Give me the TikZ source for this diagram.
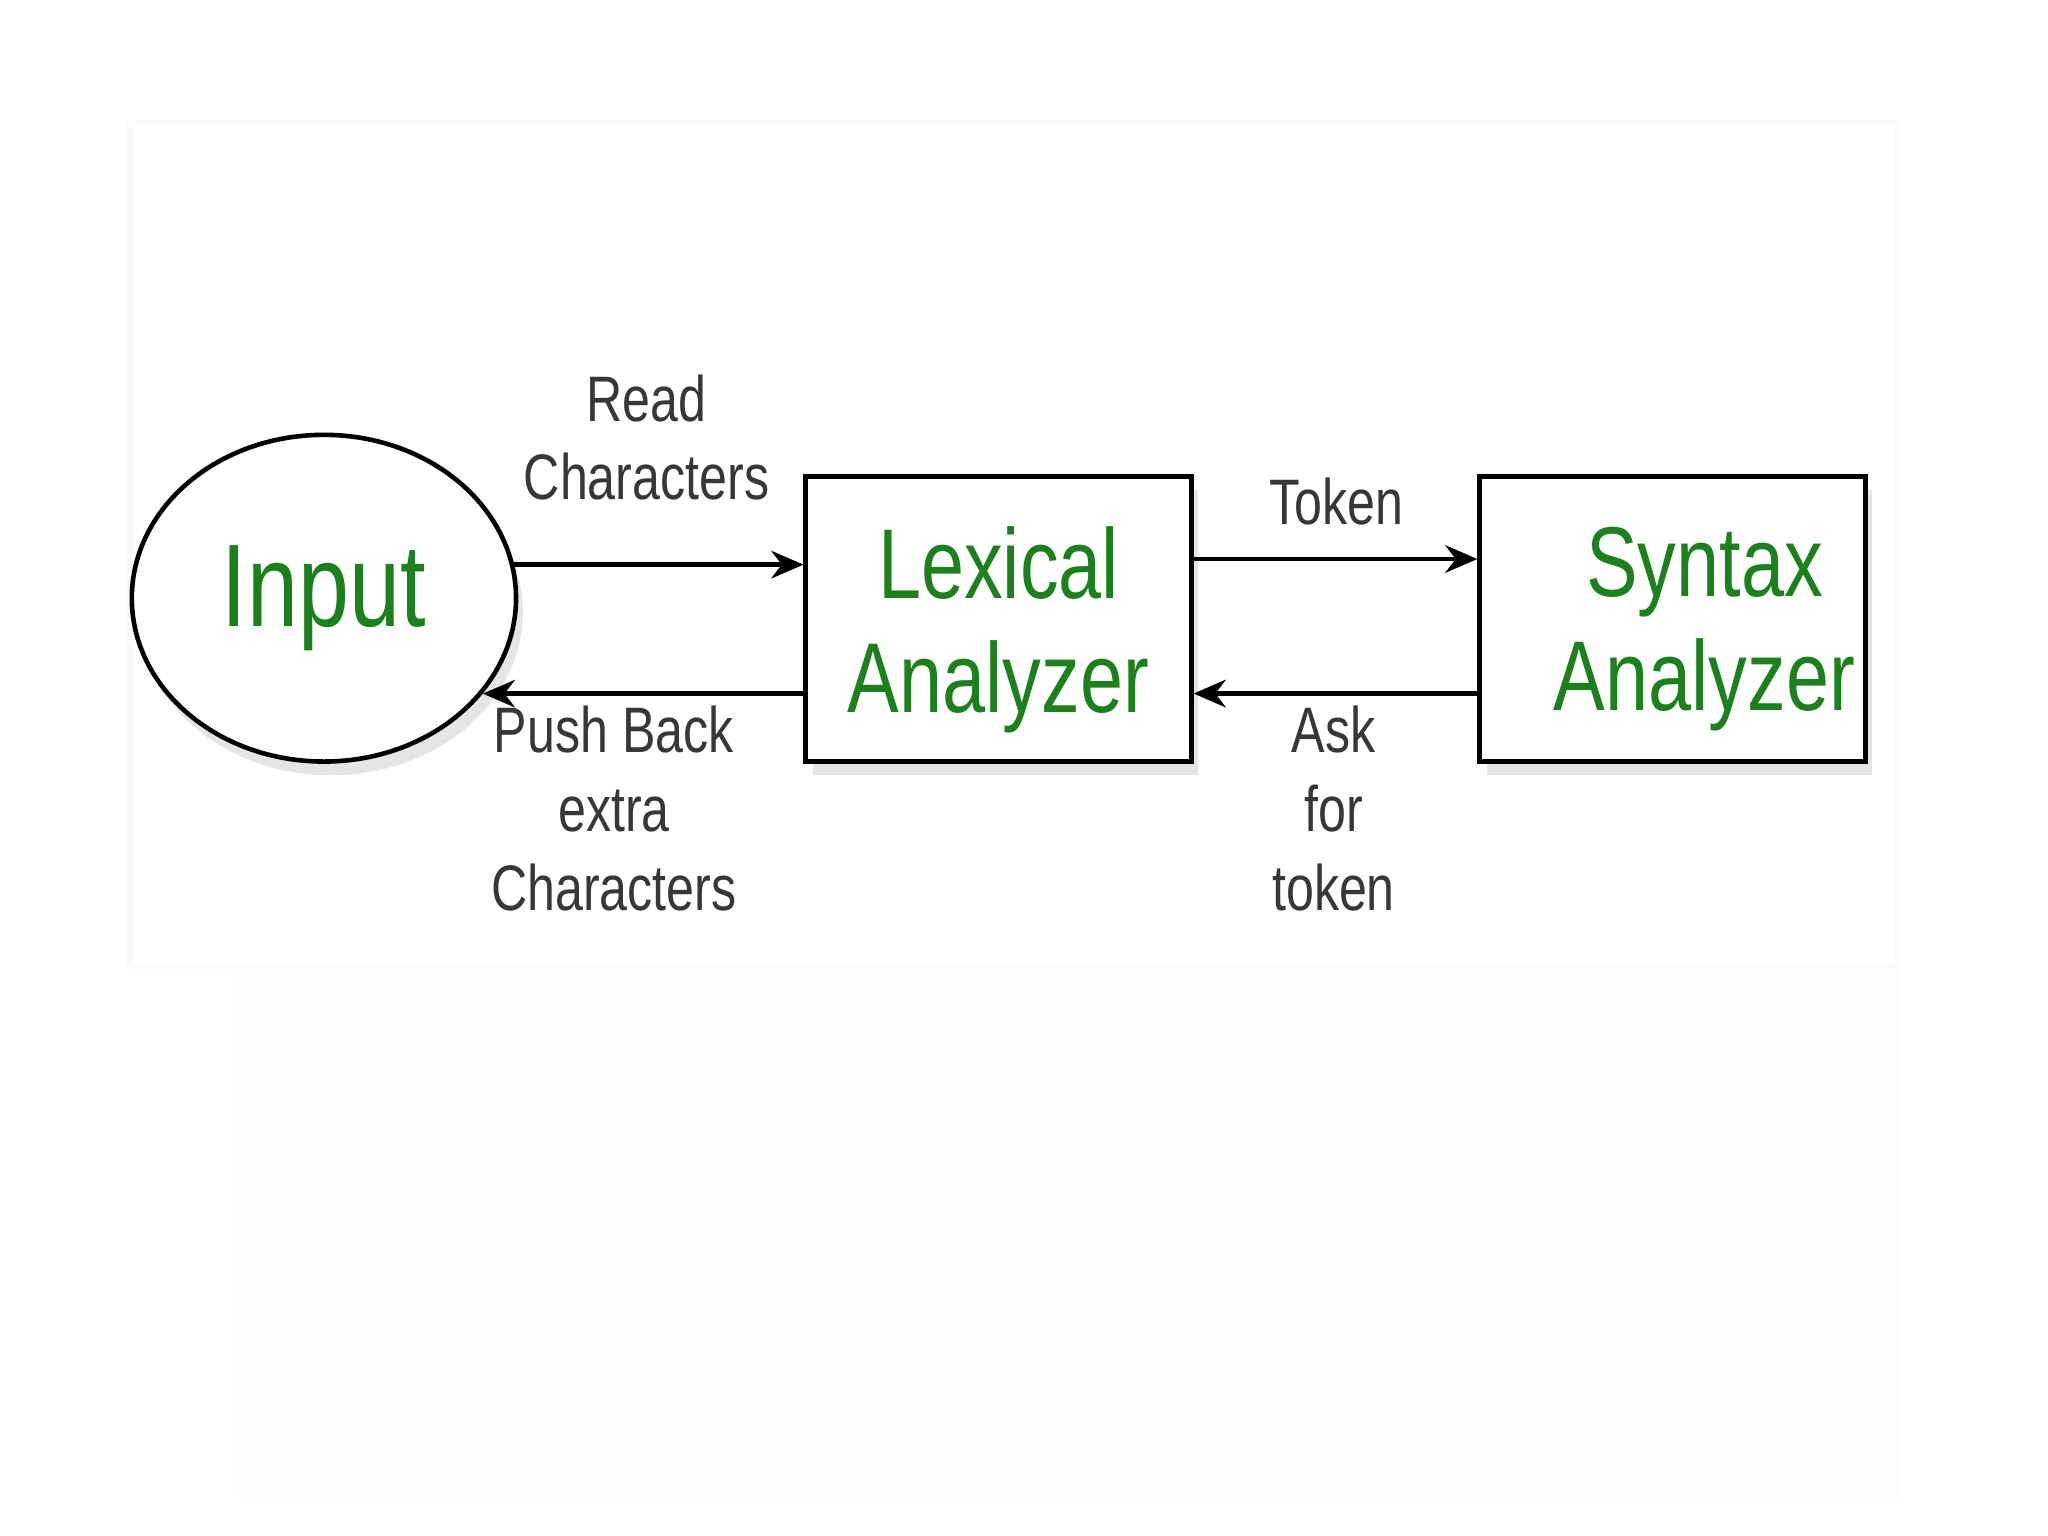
\documentclass[tikz,border=0pt]{standalone}
\usepackage{fontspec}
\setmainfont{Liberation Sans}[FakeStretch=0.78]
\usetikzlibrary{shapes.geometric,shadows,arrows.meta}
\definecolor{txtgreen}{RGB}{28,128,28}
\definecolor{lblgrey}{RGB}{55,55,55}
\begin{document}
\begin{tikzpicture}[x=0.01cm,y=-0.01cm,
  shad/.style={drop shadow={opacity=0.2,shadow xshift=1.5pt,shadow yshift=-3pt}},
  boxnode/.style={draw=black,line width=1pt,fill=white,shad,minimum width=2.95cm,minimum height=2.18cm,inner sep=0pt},
  bigtxt/.style={text=txtgreen,font=\fontsize{21.6pt}{24.8pt}\selectfont,align=center},
  lbl/.style={text=lblgrey,font=\fontsize{14pt}{17.1pt}\selectfont,align=center},
  arr/.style={draw=black,line width=1pt,-{Stealth[length=7pt,width=6pt]}}]
\useasboundingbox (0,0) rectangle (1568,1176);
\fill[white] (0,0) rectangle (1568,1176);
% panels
\fill[black!0.6] (183,742) rectangle (1455,1150);
\fill[black!2] (97,92) rectangle (1455,742);
\fill[white] (102,96) rectangle (1451,738);
% nodes
\node[ellipse,draw=black,line width=1pt,fill=white,shad,minimum width=2.94cm,minimum height=2.5cm,inner sep=0pt,
      text=txtgreen,font=\fontsize{25.6pt}{28pt}\selectfont] (inp) at (248,458) {Input};
\node[boxnode] (lex) at (764.5,474) {};
\node[bigtxt] (lextxt) at (764.5,482) {Lexical\\Analyzer};
\node[boxnode] (syn) at (1280.5,474) {};
\node[bigtxt] (syntxt) at (1305,482) {Syntax\\Analyzer};
% connectors
\draw[arr] (inp.10) -- (lex.west |- inp.10);
\draw[arr] (lex.west |- inp.-31) -- (inp.-31);
\coordinate (tk) at (0,428);
\coordinate (ak) at (0,531);
\draw[arr] (lex.east |- tk) -- (syn.west |- tk);
\draw[arr] (syn.west |- ak) -- (lex.east |- ak);
% labels
\node[lbl] (lread) at (495,335) {Read\\Characters};
\node[lbl] (lpush) at (470,619) {Push Back\\extra\\Characters};
\node[lbl] (ltok) at (1023,384) {Token};
\node[lbl] (lask) at (1021,619) {Ask\\for\\token};
\end{tikzpicture}
\end{document}
